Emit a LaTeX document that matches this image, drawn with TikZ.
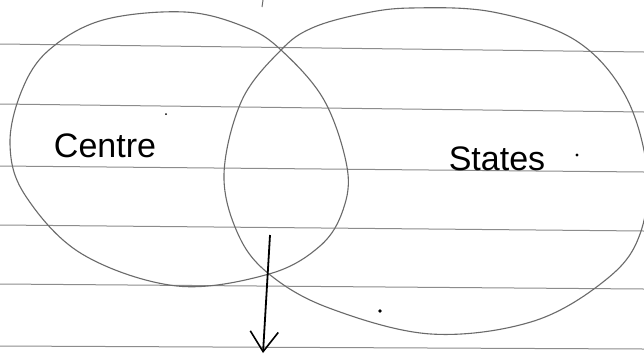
\documentclass[tikz,border=0pt]{standalone}
\usepackage{fontspec}
\setmainfont{Liberation Sans}
\usetikzlibrary{arrows.meta}
\definecolor{ruleclr}{HTML}{8C8C8C}
\definecolor{penclr}{HTML}{6A6A6A}
\tikzset{
  ruled/.style={draw=ruleclr, line width=1pt},
  setline/.style={draw=penclr, line width=1.1pt, smooth cycle, tension=0.6},
  label/.style={font=\fontsize{34}{34}\selectfont, text=black, inner sep=0pt, anchor=base},
  pointer/.style={draw=black, line width=1.8pt, -{Straight Barb[length=20pt,width=28pt,line width=1.6pt]}},
  speck/.style={fill=black, draw=none}
}
\begin{document}
\begin{tikzpicture}[x=1pt,y=-1pt]
\fill[white] (0,0) rectangle (644,354);
\useasboundingbox (0,0) rectangle (644,354);
\begin{scope}
\clip (0,0) rectangle (644,354);
% ruled lines of the paper
\draw[ruled] (0,44) -- (644,52);
\draw[ruled] (0,104) -- (644,112);
\draw[ruled] (0,166) -- (644,172);
\draw[ruled] (0,225) -- (644,231);
\draw[ruled] (0,284) -- (644,289);
\draw[ruled] (0,346) -- (644,349);
% centre set
\draw[setline] plot coordinates {(103,20) (185,12) (245,27) (281,50) (324,100) (347,167) (343,210) (320,246) (269,274) (177,286) (82,254) (25,195) (10,144) (22,90) (49,50)};
% states set
\draw[setline] plot coordinates {(361,14) (411,8) (493,12) (575,40) (625,95) (647,170) (640,234) (608,278) (534,321) (431,334) (329,308) (269,274) (238,234) (224,174) (242,100) (281,50) (312,28)};
% pen mark at top
\draw[penclr, line width=1pt] (263,0) -- (262,7);
\end{scope}
% labels
\node[label] (centre) at (105,157) {Centre};
\node[label] (states) at (497,170) {States};
% specks
\fill[speck] (577,155) circle (1.6);
\fill[speck] (380,311) circle (1.8);
\fill[speck] (166,114) circle (1.0);
% arrow from the intersection
\coordinate (arrowstart) at (270,235);
\coordinate (arrowend) at (263,353);
\draw[pointer] (arrowstart) -- (arrowend);
\end{tikzpicture}
\end{document}
